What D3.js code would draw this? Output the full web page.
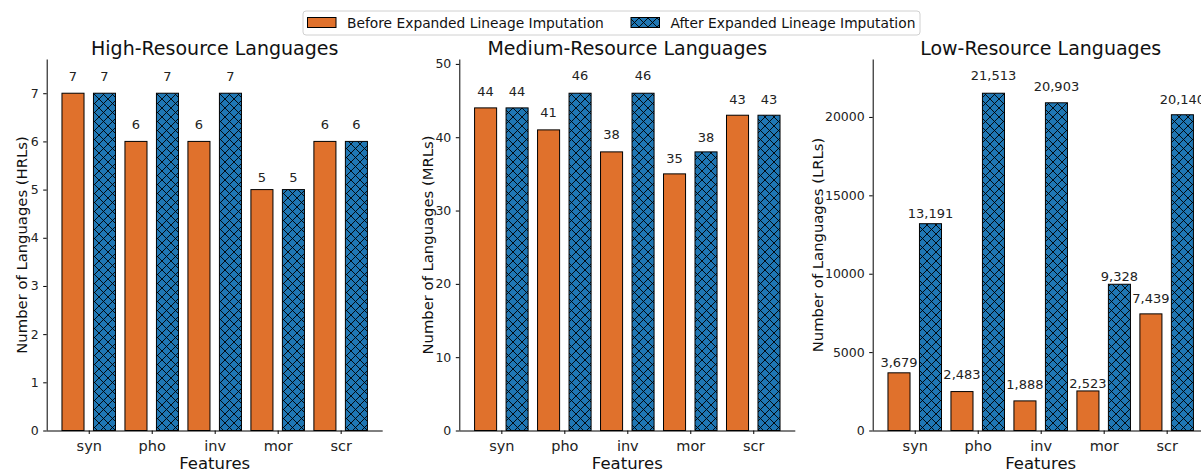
<!DOCTYPE html>
<html>
<head>
<meta charset="utf-8">
<script src="https://cdn.jsdelivr.net/npm/d3@7"></script>
<style>
  html, body { margin: 0; padding: 0; background: #fff; }
  svg { display: block; font-family: "DejaVu Sans", sans-serif; }
</style>
</head>
<body>
<svg id="chart" width="1201" height="472"></svg>
<script>
// ---------------- data ----------------
const features = ["syn", "pho", "inv", "mor", "scr"];
const seriesNames = ["Before Expanded Lineage Imputation", "After Expanded Lineage Imputation"];
const panelTitles = ["High-Resource Languages", "Medium-Resource Languages", "Low-Resource Languages"];
const yLabels = ["Number of Languages (HRLs)", "Number of Languages (MRLs)", "Number of Languages (LRLs)"];
const xLabel = "Features";

const hrlBefore = [7, 6, 6, 5, 6];
const hrlAfter  = [7, 7, 7, 5, 6];
const mrlBefore = [44, 41, 38, 35, 43];
const mrlAfter  = [44, 46, 46, 38, 43];
const lrlBefore = [3679, 2483, 1888, 2523, 7439];
const lrlAfter  = [13191, 21513, 20903, 9328, 20140];

const hrlTicks = [0, 1, 2, 3, 4, 5, 6, 7];
const mrlTicks = [0, 10, 20, 30, 40, 50];
const lrlTicks = [0, 5000, 10000, 15000, 20000];

// ---------------- style / layout ----------------
const colors = ["#e0712c", "#1f77b4"];
const panelLeft = [46.7, 459.3, 872.7];
const panelWidth = 336;
const plotTop = 59.5, plotBottom = 430.5;
const yLabelOffset = [19.5, 26.5, 49.5];
// label baseline distance above bar top (px), per panel / series
const labelLift = [
  [[12.6, 12.5, 12.5, 7.8, 12.5], [12.6, 12.6, 12.6, 7.8, 12.5]],
  [[11.8, 12.6, 12.6, 10.4, 11.7], [11.8, 12.8, 12.8, 9.6, 11.7]],
  [[6.1, 12.3, 12.3, 2.6, 11.0], [5.6, 12.8, 11.3, 2.8, 10.3]]
];

const panels = [
  { before: hrlBefore, after: hrlAfter, ticks: hrlTicks, fmt: d3.format("d") },
  { before: mrlBefore, after: mrlAfter, ticks: mrlTicks, fmt: d3.format("d") },
  { before: lrlBefore, after: lrlAfter, ticks: lrlTicks, fmt: d3.format(",") }
];

const svg = d3.select("#chart");
const defs = svg.append("defs");

// cross hatch pattern
const hs = 9;
const pat = defs.append("pattern")
  .attr("id", "xhatch")
  .attr("patternUnits", "userSpaceOnUse")
  .attr("width", hs).attr("height", hs);
pat.append("rect").attr("width", hs).attr("height", hs).attr("fill", colors[1]);
pat.append("path")
  .attr("d", `M0,0L${hs},${hs}M0,${hs}L${hs},0M${-hs/2},${hs/2}L${hs/2},${-hs/2}M${hs/2},${hs*1.5}L${hs*1.5},${hs/2}M${-hs/2},${hs/2}L${hs/2},${hs*1.5}M${hs/2},${-hs/2}L${hs*1.5},${hs/2}`)
  .attr("stroke", "#000").attr("stroke-width", 0.9).attr("fill", "none");

const fills = [colors[0], "url(#xhatch)"];
const barW = 0.35, barOff = 0.25;

panels.forEach((p, pi) => {
  const left = panelLeft[pi];
  const x = d3.scaleLinear().domain([-0.6675, 4.6675]).range([left, left + panelWidth]);
  const maxV = d3.max(p.before.concat(p.after));
  const y = d3.scaleLinear().domain([0, maxV * 1.1]).range([plotBottom, plotTop]);
  const g = svg.append("g");

  // bars
  [p.before, p.after].forEach((vals, si) => {
    const off = si === 0 ? -barOff : barOff;
    g.selectAll(null).data(vals).enter().append("rect")
      .attr("x", (d, i) => x(i + off - barW / 2))
      .attr("width", x(barW) - x(0))
      .attr("y", d => y(d))
      .attr("height", d => y(0) - y(d))
      .attr("fill", fills[si])
      .attr("stroke", "#000")
      .attr("stroke-width", 1);
    g.selectAll(null).data(vals).enter().append("text")
      .attr("x", (d, i) => x(i + off))
      .attr("y", (d, i) => y(d) - labelLift[pi][si][i])
      .attr("text-anchor", "middle")
      .attr("font-size", "13px")
      .attr("fill", "#222")
      .text(d => p.fmt(d));
  });

  // y axis
  const ya = g.append("g").attr("transform", `translate(${left},0)`)
    .call(d3.axisLeft(y).tickValues(p.ticks).tickFormat(d3.format("d")).tickSize(3.5).tickPadding(4.5));
  ya.select(".domain").attr("d", `M0.5,${plotTop}V${plotBottom}`).attr("stroke", "#000").attr("stroke-width", 1);
  ya.selectAll(".tick line").attr("stroke", "#000");
  ya.selectAll(".tick text").attr("font-size", "12.5px").attr("fill", "#222").attr("font-family", "DejaVu Sans");

  // x axis
  const xa = g.append("g").attr("transform", `translate(0,${plotBottom})`)
    .call(d3.axisBottom(x).tickValues(d3.range(features.length)).tickFormat(i => features[i]).tickSize(3.5).tickPadding(6.5));
  xa.select(".domain").attr("d", `M${left},0.5H${left + panelWidth}`).attr("stroke", "#000").attr("stroke-width", 1);
  xa.selectAll(".tick line").attr("stroke", "#000");
  xa.selectAll(".tick text").attr("font-size", "14.5px").attr("fill", "#222").attr("font-family", "DejaVu Sans");

  // title
  g.append("text")
    .attr("x", left + panelWidth / 2).attr("y", 55)
    .attr("text-anchor", "middle").attr("font-size", "19px").attr("fill", "#111")
    .text(panelTitles[pi]);

  // x label
  g.append("text")
    .attr("x", left + panelWidth / 2).attr("y", 469)
    .attr("text-anchor", "middle").attr("font-size", "16.5px").attr("fill", "#111")
    .text(xLabel);

  // y label
  g.append("text")
    .attr("transform", `translate(${left - yLabelOffset[pi]},${(plotTop + plotBottom) / 2}) rotate(-90)`)
    .attr("text-anchor", "middle").attr("font-size", "14.8px").attr("fill", "#111")
    .text(yLabels[pi]);
});

// legend
const lg = svg.append("g");
lg.append("rect")
  .attr("x", 303).attr("y", 11).attr("width", 617).attr("height", 24)
  .attr("rx", 3).attr("fill", "#fff").attr("stroke", "#d0d0d0").attr("stroke-width", 1);
const legX = [307.5, 631];
seriesNames.forEach((name, si) => {
  lg.append("rect")
    .attr("x", legX[si]).attr("y", 17.5).attr("width", 28.5).attr("height", 10)
    .attr("fill", fills[si]).attr("stroke", "#000").attr("stroke-width", 1);
  lg.append("text")
    .attr("x", legX[si] + 39.5).attr("y", 27.6)
    .attr("font-size", "13.8px").attr("fill", "#111")
    .text(name);
});
</script>
</body>
</html>
